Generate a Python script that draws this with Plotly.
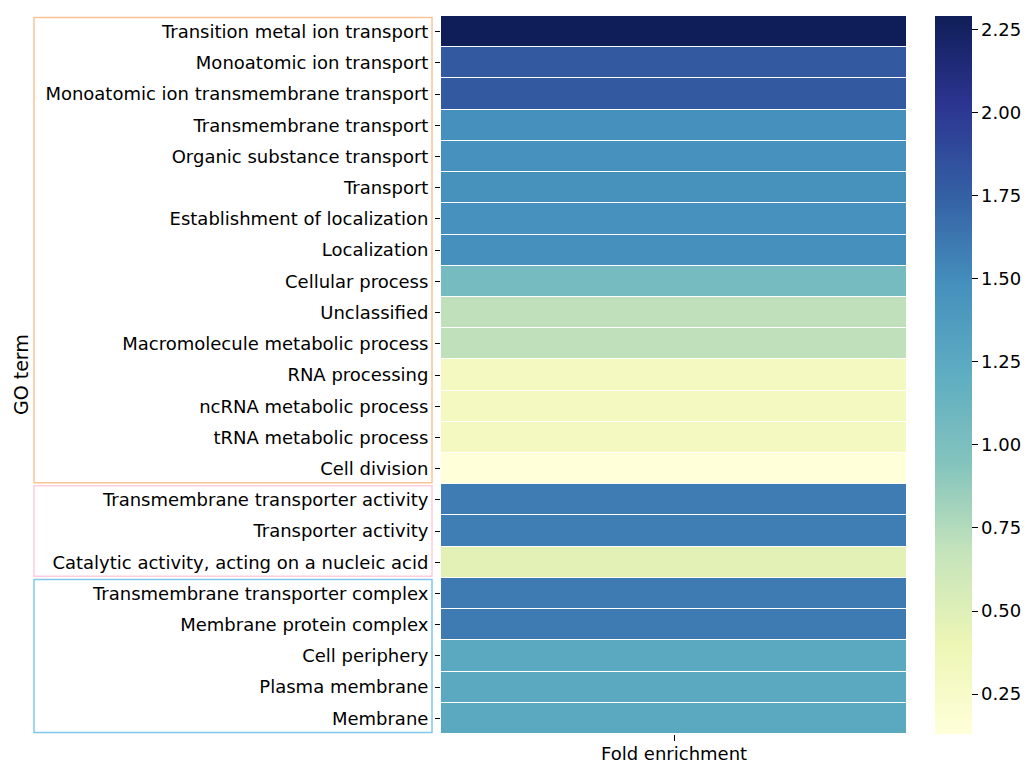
import plotly.graph_objects as go

# GO terms (top to bottom) and their fold enrichment
terms = [
    "Transition metal ion transport",
    "Monoatomic ion transport",
    "Monoatomic ion transmembrane transport",
    "Transmembrane transport",
    "Organic substance transport",
    "Transport",
    "Establishment of localization",
    "Localization",
    "Cellular process",
    "Unclassified",
    "Macromolecule metabolic process",
    "RNA processing",
    "ncRNA metabolic process",
    "tRNA metabolic process",
    "Cell division",
    "Transmembrane transporter activity",
    "Transporter activity",
    "Catalytic activity, acting on a nucleic acid",
    "Transmembrane transporter complex",
    "Membrane protein complex",
    "Cell periphery",
    "Plasma membrane",
    "Membrane",
]
fold_enrichment = [
    2.29, 1.79, 1.79, 1.48, 1.47, 1.46, 1.47, 1.48, 1.05, 0.70, 0.70,
    0.31, 0.30, 0.30, 0.13, 1.59, 1.58, 0.47, 1.60, 1.60, 1.25, 1.25, 1.25,
]

# Term groups: (first row, last row, outline colour)
groups = [
    (0, 14, "#fbc497"),
    (15, 17, "#fccfdc"),
    (18, 22, "#80c7ea"),
]

# Yellow-green-blue sequential palette
ylgnbu = ["#ffffd9", "#edf6b5", "#c6e4bb", "#84c4bd", "#5eadc2",
          "#4590bd", "#3460a4", "#2c3591", "#0f1e58"]
colorscale = [[i / (len(ylgnbu) - 1), c] for i, c in enumerate(ylgnbu)]

W, H = 1028, 764
ml, mr, mt, mb = 441, 121, 16, 30
plot_w = W - ml - mr
FS = 18

fig = go.Figure(
    go.Heatmap(
        z=[[v] for v in fold_enrichment],
        x=[0],
        y=terms,
        colorscale=colorscale,
        zmin=min(fold_enrichment),
        zmax=max(fold_enrichment),
        ygap=1,
        xgap=1,
        colorbar=dict(
            thickness=37,
            len=1,
            lenmode="fraction",
            x=(935 - ml) / plot_w,
            xanchor="left",
            xpad=0,
            ypad=0,
            y=0.5,
            yanchor="middle",
            outlinewidth=0,
            ticks="outside",
            ticklen=6,
            tickwidth=1,
            tickcolor="black",
            tick0=0.25,
            dtick=0.25,
            tickformat=".2f",
            tickfont=dict(size=FS, color="black"),
        ),
        showscale=True,
    )
)

# Outline boxes around each group of terms
px_to_paper = lambda p: (p - ml) / plot_w
for first, last, color in groups:
    fig.add_shape(
        type="rect",
        xref="paper",
        yref="y",
        x0=px_to_paper(34),
        x1=px_to_paper(432),
        y0=first - 0.45,
        y1=last + 0.45,
        line=dict(color=color, width=1.5),
        layer="below",
    )

fig.add_annotation(
    text="GO term", textangle=-90, xref="paper", yref="paper",
    x=px_to_paper(21), xanchor="center", y=0.5, yanchor="middle",
    showarrow=False, font=dict(size=FS + 1, color="black"),
)
fig.add_annotation(
    text="Fold enrichment", xref="paper", yref="paper",
    x=0.5, y=0, yanchor="top", yshift=-7, showarrow=False,
    font=dict(size=FS, color="black"),
)

fig.update_layout(
    width=W,
    height=H,
    margin=dict(l=ml, r=mr, t=mt, b=mb, autoexpand=False),
    plot_bgcolor="white",
    paper_bgcolor="white",
    font=dict(family="DejaVu Sans", size=FS, color="black"),
    xaxis=dict(
        tickvals=[0], ticktext=[""], range=[-0.5, 0.5],
        ticks="outside", ticklen=6, tickwidth=1, tickcolor="black",
        showgrid=False, zeroline=False, showline=False,
    ),
    yaxis=dict(
        autorange="reversed",
        ticks="outside", ticklen=5, tickwidth=1, tickcolor="black",
        ticklabelstandoff=3,
        showgrid=False, zeroline=False, showline=False,
        tickfont=dict(size=FS, color="black"),
    ),
)

fig.write_html("out.html")
